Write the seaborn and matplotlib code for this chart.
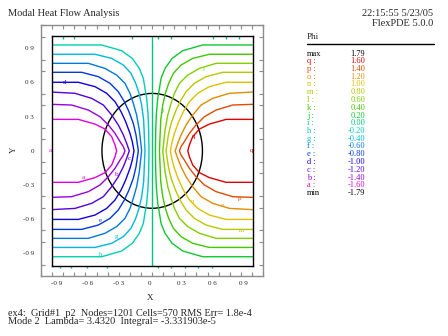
import numpy as np
import matplotlib
matplotlib.use("Agg")
import matplotlib.pyplot as plt
from matplotlib.patches import Circle
from matplotlib.lines import Line2D
import pandas as pd
import seaborn as sns

sns.set_style("white")
plt.rcParams['font.family'] = ['Liberation Serif', 'DejaVu Serif']

# ---------------- data ----------------
level_names = list("abcdefghijklmnopq")
level_values = [-1.60, -1.40, -1.20, -1.00, -0.80, -0.60, -0.40, -0.20, 0.00,
                0.20, 0.40, 0.60, 0.80, 1.00, 1.20, 1.40, 1.60]
phi_max, phi_min = 1.79, -1.79
level_colors = ["#e000e0", "#9a00e0", "#5400e0", "#1000e0", "#0038e0", "#0078e0",
                "#00b8e0", "#00d0b0", "#00c878", "#10c830", "#40c800", "#80d000",
                "#b8c800", "#e0c000", "#e08c00", "#e04c00", "#e00000"]

# traced contours (upper-left quadrant, from left wall down to the y=0 axis)
a_x = [-1.0, -0.735, -0.569, -0.470, -0.403, -0.370, -0.354]
a_y = [0.274, 0.274, 0.233, 0.190, 0.123, 0.051, 0.0]
b_x = [-1.0, -0.801, -0.635, -0.519, -0.436, -0.370, -0.320, -0.287, -0.271]
b_y = [0.405, 0.399, 0.355, 0.297, 0.225, 0.152, 0.080, 0.036, 0.0]
c_x = [-1.0, -0.768, -0.602, -0.486, -0.403, -0.337, -0.287, -0.254, -0.228]
c_y = [0.512, 0.501, 0.457, 0.399, 0.312, 0.225, 0.138, 0.065, 0.0]
d_x = [-1.0, -0.735, -0.569, -0.453, -0.370, -0.310, -0.264, -0.221, -0.198, -0.181]
d_y = [0.597, 0.597, 0.559, 0.501, 0.428, 0.341, 0.254, 0.152, 0.080, 0.0]
e_x = [-1.0, -0.702, -0.536, -0.420, -0.337, -0.277, -0.231, -0.188, -0.161, -0.138]
e_y = [0.684, 0.684, 0.646, 0.588, 0.515, 0.428, 0.341, 0.239, 0.138, 0.0]
f_x = [-1.0, -0.636, -0.470, -0.354, -0.271, -0.221, -0.188, -0.155, -0.128, -0.105]
f_y = [0.762, 0.762, 0.718, 0.660, 0.588, 0.501, 0.414, 0.312, 0.181, 0.0]
g_x = [-1.0, -0.569, -0.403, -0.287, -0.211, -0.164, -0.131, -0.105, -0.085, -0.072]
g_y = [0.841, 0.841, 0.805, 0.747, 0.675, 0.588, 0.501, 0.399, 0.268, 0.0]
h_x = [-1.0, -0.503, -0.304, -0.198, -0.128, -0.088, -0.072, -0.055, -0.042, -0.035, -0.032]
h_y = [0.922, 0.922, 0.872, 0.805, 0.718, 0.631, 0.544, 0.457, 0.326, 0.181, 0.0]
i_x = [0.0, 0.0]
i_y = [-1.0, 1.0]

# short contour stubs touching the top and bottom walls
stub_top_x = [-0.888, -0.778, -0.2, 0.058, 0.19, 0.604, 0.733, 0.862]
stub_bottom_x = [-0.917, -0.808, -0.646, -0.447, 0.06, 0.19, 0.326, 0.459, 0.598]

# contour letter labels placed on the plot
tag_text = ["d", "a", "b", "c", "e", "g", "h", "l", "j", "q", "n", "o", "p", "m", "a", "q"]
tag_x = [-0.868, -0.686, -0.353, -0.231, -0.519, -0.360, -0.509, 0.518, 0.104, 0.409,
         0.399, 0.698, 0.874, 0.891, -1.017, 0.99]
tag_y = [0.597, -0.231, -0.202, -0.063, -0.609, -0.745, -0.899, 0.710, 0.355, 0.129,
         -0.440, -0.475, -0.411, -0.693, 0.0, 0.0]

x_tick_vals = [-0.9, -0.6, -0.3, 0.0, 0.3, 0.6, 0.9]
y_tick_vals = [-0.9, -0.6, -0.3, 0.0, 0.3, 0.6, 0.9]

# ---------------- build the contour table ----------------
quad = {"a": (a_x, a_y), "b": (b_x, b_y), "c": (c_x, c_y), "d": (d_x, d_y),
        "e": (e_x, e_y), "f": (f_x, f_y), "g": (g_x, g_y), "h": (h_x, h_y)}
mirror = dict(zip("abcdefgh", "qponmlkj"))
rows = []
for name, (qx, qy) in quad.items():
    qx = np.asarray(qx); qy = np.asarray(qy)
    px = np.concatenate([qx, qx[::-1]])
    py = np.concatenate([qy, -qy[::-1]])
    for k, (xx, yy) in enumerate(zip(px, py)):
        rows.append((name, k, xx, yy))
        rows.append((mirror[name], k, -xx, yy))
for k, (xx, yy) in enumerate(zip(i_x, i_y)):
    rows.append(("i", k, xx, yy))
df = pd.DataFrame(rows, columns=["level", "order", "x", "y"])
palette = dict(zip(level_names, level_colors))

# ---------------- figure ----------------
W, H = 448, 336
fig = plt.figure(figsize=(W / 100, H / 100), dpi=100)

def fx(px):
    return px / W

def fy(py):
    return 1 - py / H

def tick_label(v):
    if v == 0:
        return "0"
    return f"{v:.1f}".replace(".", " ")

# gray outer frame with ticks
fl, fr, ft, fb = 41, 263, 25, 275.5
frame = fig.add_axes([fx(fl), fy(fb), (fr - fl) / W, (fb - ft) / H])
frame.set_xlim(-1.049, 1.092)
frame.set_ylim(-1.095, 1.103)
for s in frame.spines.values():
    s.set_color("#8c8c8c")
    s.set_linewidth(1.0)
frame.set_xticks(x_tick_vals)
frame.set_xticklabels([tick_label(v) for v in x_tick_vals])
frame.set_yticks(y_tick_vals)
frame.set_yticklabels([tick_label(v) for v in y_tick_vals])
frame.set_xticks(np.linspace(-1.049, 1.092, 21), minor=True)
frame.set_yticks(np.arange(-1.0, 1.11, 0.1), minor=True)
frame.tick_params(axis="x", which="major", length=0, labelsize=5, pad=4)
frame.tick_params(axis="y", which="major", length=0, labelsize=5, pad=5)
frame.tick_params(which="minor", direction="in", length=3, width=0.8, color="#8c8c8c",
                  top=True, bottom=True, left=True, right=True)
frame.set_xlabel("X", fontsize=6.5)
frame.set_ylabel("Y", fontsize=6.5)
frame.xaxis.set_label_coords((150 - fl) / (fr - fl), (fb - 294) / (fb - ft))
frame.yaxis.set_label_coords((18 - fl) / (fr - fl), (fb - 150) / (fb - ft))

# inner plot box
bl, br, bt, bb = 51.7, 252.7, 36, 265.7
ax = fig.add_axes([fx(bl), fy(bb), (br - bl) / W, (bb - bt) / H])
sns.lineplot(data=df, x="x", y="y", hue="level", units="level", estimator=None,
             sort=False, palette=palette, legend=False, linewidth=1.0, ax=ax)
ax.add_patch(Circle((0, 0), 0.5, fill=False, ec="black", lw=1.0))
ax.vlines(stub_top_x, 0.97, 1.0, color=palette["i"], lw=1.0)
ax.vlines(stub_bottom_x, -1.022, -1.0, color=palette["i"], lw=1.0, clip_on=False)
ax.set_xlim(-1, 1)
ax.set_ylim(-1, 1)
ax.set_xticks([])
ax.set_yticks([])
ax.set_xlabel("")
ax.set_ylabel("")
for s in ax.spines.values():
    s.set_color("black")
    s.set_linewidth(1.0)
for t, xx, yy in zip(tag_text, tag_x, tag_y):
    ax.text(xx, yy, t, color=palette[t], fontsize=5, ha="center", va="center")

# header texts
fig.text(fx(8), fy(14), "Modal Heat Flow Analysis", fontsize=7.5, ha="left", va="center")
fig.text(fx(433), fy(14), "22:15:55 5/23/05", fontsize=7.5, ha="right", va="center")
fig.text(fx(433), fy(23.5), "FlexPDE 5.0.0", fontsize=7.5, ha="right", va="center")

# legend block
fig.text(fx(307), fy(37), "Phi", fontsize=6.5, ha="left", va="center")
fig.add_artist(Line2D([fx(306.7), fx(434)], [fy(44.3), fy(44.3)], color="black", lw=1))
leg_names = ["max"] + [f"{n} :" for n in level_names[::-1]] + ["min"]
leg_vals = [phi_max] + level_values[::-1] + [phi_min]
leg_cols = ["black"] + level_colors[::-1] + ["black"]
for r, (nm, v, c) in enumerate(zip(leg_names, leg_vals, leg_cols)):
    yy = 53.5 + r * 7.75
    fig.text(fx(307), fy(yy), nm, fontsize=6, color=c, ha="left", va="center")
    fig.text(fx(365), fy(yy), f"{v:.2f}", fontsize=6, color=c, ha="right", va="center")

# footer
fig.text(fx(8), fy(313.5), "ex4:  Grid#1  p2  Nodes=1201 Cells=570 RMS Err= 1.8e-4",
         fontsize=7.4, ha="left", va="center")
fig.text(fx(8), fy(322), "Mode 2  Lambda= 3.4320  Integral= -3.331903e-5",
         fontsize=7.4, ha="left", va="center")

fig.savefig("out.png", dpi=100)
